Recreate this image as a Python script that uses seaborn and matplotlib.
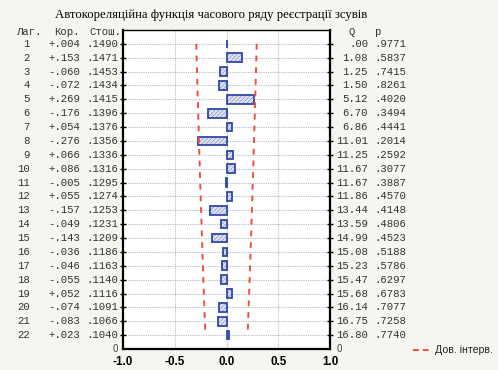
import numpy as np
import pandas as pd
import matplotlib
matplotlib.use("Agg")
import matplotlib.pyplot as plt
import seaborn as sns
from matplotlib.transforms import blended_transform_factory

lags = list(range(1, 23))
corr = [0.004, 0.153, -0.060, -0.072, 0.269, -0.176, 0.054, -0.276, 0.066, 0.086, -0.005,
        0.055, -0.157, -0.049, -0.143, -0.036, -0.046, -0.055, 0.052, -0.074, -0.083, 0.023]
se = [0.1490, 0.1471, 0.1453, 0.1434, 0.1415, 0.1396, 0.1376, 0.1356, 0.1336, 0.1316, 0.1295,
      0.1274, 0.1253, 0.1231, 0.1209, 0.1186, 0.1163, 0.1140, 0.1116, 0.1091, 0.1066, 0.1040]
q_vals = [0.00, 1.08, 1.25, 1.50, 5.12, 6.70, 6.86, 11.01, 11.25, 11.67, 11.67,
          11.86, 13.44, 13.59, 14.99, 15.08, 15.23, 15.47, 15.68, 16.14, 16.75, 16.80]
p_vals = [0.9771, 0.5837, 0.7415, 0.8261, 0.4020, 0.3494, 0.4441, 0.2014, 0.2592, 0.3077, 0.3887,
          0.4570, 0.4148, 0.4806, 0.4523, 0.5188, 0.5786, 0.6297, 0.6783, 0.7077, 0.7258, 0.7740]
x_ticks = [-1.0, -0.5, 0.0, 0.5, 1.0]
title = "Автокореляційна функція часового ряду реєстрації зсувів"
headers_left = ["Лаг.", "Кор.", "Стош."]
headers_right = ["Q", "p"]
legend_label = "Дов. інтерв."

W, H = 498, 370
bg = "#f7f5ef"
sns.set_theme(style="white")
plt.rcParams["font.family"] = ["Liberation Sans", "DejaVu Sans"]
plt.rcParams["hatch.linewidth"] = 0.45

fig = plt.figure(figsize=(W / 100, H / 100), dpi=100, facecolor=bg)
L, R, T, B = 123, 330, 30, 349
ax = fig.add_axes([L / W, 1 - B / H, (R - L) / W, (B - T) / H])
ax.set_facecolor("white")

df = pd.DataFrame({"lag": lags, "corr": corr})
# hatched fill layer
sns.barplot(data=df, x="corr", y="lag", orient="h", native_scale=True, ax=ax,
            width=0.62, color="#dfe2f2", edgecolor="#7d88c4", linewidth=0,
            hatch="////////", errorbar=None, zorder=3)
# outline layer
sns.barplot(data=df, x="corr", y="lag", orient="h", native_scale=True, ax=ax,
            width=0.62, fill=False, edgecolor="#2f47a6", linewidth=1.3,
            errorbar=None, zorder=3.5)

ci = 1.96 * np.array(se)
ax.plot(-ci, lags, color="#f0503c", linestyle=(0, (3, 3)), linewidth=1.4, zorder=4)
ax.plot(ci, lags, color="#f0503c", linestyle=(0, (3, 3)), linewidth=1.4, zorder=4)

ax.set_xlim(-1.0, 1.0)
ax.set_ylim(23, 0)
ax.set_xticks(x_ticks)
ax.set_xticklabels([f"{v:.1f}" for v in x_ticks], fontsize=8.4, fontweight="bold",
                   family=["Liberation Sans", "DejaVu Sans"])
ax.set_yticks(lags)
ax.set_yticklabels([])
ax.set_xlabel("")
ax.set_ylabel("")
ax.tick_params(axis="x", length=0, pad=5, colors="black")
ax.tick_params(axis="y", left=True, right=True, direction="inout", length=4, width=1.0, color="black")

for y in lags:
    ax.axhline(y, color="#b4bcc8", linestyle=(0, (1, 1)), linewidth=0.8, zorder=0)
for x in [-0.5, 0.0, 0.5]:
    ax.axvline(x, color="#b4bcc8", linestyle=(0, (1, 1)), linewidth=0.8, zorder=0)

for s in ["left", "bottom", "right"]:
    ax.spines[s].set_linewidth(1.6)
    ax.spines[s].set_color("black")
ax.spines["top"].set_linewidth(1.0)
ax.spines["top"].set_color("black")
ax.spines["top"].set_visible(True)

mono = ["Liberation Mono", "DejaVu Sans Mono"]
fs = 7.7
def ax_x(px):
    return (px - L) / (R - L)

tr = blended_transform_factory(ax.transAxes, ax.transData)
txtcol = "#333333"
kw = dict(transform=tr, va="center", family=mono, fontsize=fs, color=txtcol, clip_on=False)
for i, lag in enumerate(lags):
    ax.text(ax_x(30), lag, f"{lag}", ha="right", **kw)
    c = corr[i]
    cs = ("+" if c >= 0 else "-") + f"{abs(c):.3f}"[1:]
    ax.text(ax_x(80), lag, cs, ha="right", **kw)
    ax.text(ax_x(118), lag, f"{se[i]:.4f}"[1:], ha="right", **kw)
    qs = f"{q_vals[i]:.2f}"
    if qs.startswith("0"):
        qs = qs[1:]
    ax.text(ax_x(368), lag, qs, ha="right", **kw)
    ax.text(ax_x(374), lag, f"{p_vals[i]:.4f}"[1:], ha="left", **kw)

ax.text(ax_x(42), 0.12, headers_left[0], ha="right", **kw)
ax.text(ax_x(80), 0.12, headers_left[1], ha="right", **kw)
ax.text(ax_x(121), 0.12, headers_left[2], ha="right", **kw)
ax.text(ax_x(352), 0.12, headers_right[0], ha="center", **kw)
ax.text(ax_x(377), 0.12, headers_right[1], ha="center", **kw)

ax.text(ax_x(118), 23, "0", transform=tr, ha="right", va="center", fontsize=7, color="#444444", clip_on=False)
ax.text(ax_x(337), 23, "0", transform=tr, ha="left", va="center", fontsize=7, color="#444444", clip_on=False)

fig.text(211 / W, 1 - 15 / H, title, ha="center", va="center",
         family=["Liberation Serif", "DejaVu Serif"], fontsize=9.2, color="black")

fig.lines.append(plt.Line2D([413 / W, 431 / W], [1 - 350 / H, 1 - 350 / H], transform=fig.transFigure,
                            color="#f0503c", linestyle=(0, (3, 2)), linewidth=1.4))
fig.text(435 / W, 1 - 350 / H, legend_label, ha="left", va="center", fontsize=7.6, color="#222222")

fig.savefig("out.png", dpi=100, facecolor=bg)
